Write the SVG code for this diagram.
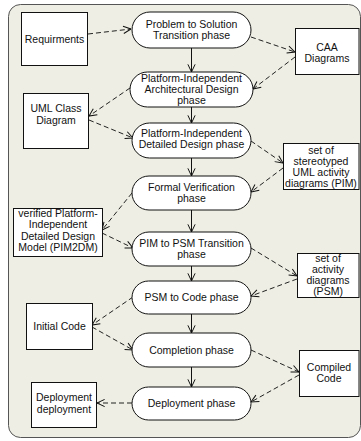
<svg xmlns="http://www.w3.org/2000/svg" width="361" height="441" viewBox="0 0 361 441">
  <defs>
    <style>
      .frame { fill: #eeeee4; stroke: #555; stroke-width: 1; }
      .phase { fill: #fff; stroke: #111; stroke-width: 1; }
      .box { fill: #fff; stroke: #111; stroke-width: 1; }
      text { font-family: "Liberation Sans", Arial, sans-serif; font-size: 10.5px; fill: #111; text-anchor: middle; }
      .flow { stroke: #111; stroke-width: 1; fill: none; }
      .dep { stroke: #222; stroke-width: 1; fill: none; stroke-dasharray: 5 3; }
    </style>
    <marker id="vee" viewBox="0 0 10 10" refX="9.5" refY="5" markerWidth="9" markerHeight="9" markerUnits="userSpaceOnUse" orient="auto">
      <path d="M1,1 L9.5,5 L1,9" fill="none" stroke="#111" stroke-width="1.1" stroke-dasharray="none"/>
    </marker>
  </defs>

  <!-- outer panel -->
  <rect class="frame" x="8.5" y="4.5" width="352" height="433" rx="12"/>

  <!-- connectors -->
  <g id="connectors">
    <!-- main phase flow -->
    <line class="flow" x1="191.5" y1="48" x2="191.5" y2="72" marker-end="url(#vee)"/>
    <line class="flow" x1="191.5" y1="107" x2="191.5" y2="123" marker-end="url(#vee)"/>
    <line class="flow" x1="191.5" y1="158" x2="191.5" y2="176" marker-end="url(#vee)"/>
    <line class="flow" x1="191.5" y1="210" x2="191.5" y2="232" marker-end="url(#vee)"/>
    <line class="flow" x1="191.5" y1="266" x2="191.5" y2="281" marker-end="url(#vee)"/>
    <line class="flow" x1="191.5" y1="314" x2="191.5" y2="333" marker-end="url(#vee)"/>
    <line class="flow" x1="191.5" y1="367" x2="191.5" y2="387" marker-end="url(#vee)"/>
    <!-- artefact dependencies -->
    <line class="dep" x1="88" y1="34" x2="131" y2="29" marker-end="url(#vee)"/>
    <line class="dep" x1="251" y1="37" x2="295" y2="52" marker-end="url(#vee)"/>
    <line class="dep" x1="295" y1="57" x2="253" y2="89" marker-end="url(#vee)"/>
    <line class="dep" x1="130" y1="88" x2="89" y2="116" marker-end="url(#vee)"/>
    <line class="dep" x1="89" y1="120" x2="133" y2="138" marker-end="url(#vee)"/>
    <line class="dep" x1="251" y1="141" x2="283" y2="163" marker-end="url(#vee)"/>
    <line class="dep" x1="283" y1="168" x2="251" y2="192" marker-end="url(#vee)"/>
    <line class="dep" x1="132" y1="193" x2="102" y2="230" marker-end="url(#vee)"/>
    <line class="dep" x1="102" y1="233" x2="133" y2="248" marker-end="url(#vee)"/>
    <line class="dep" x1="251" y1="248" x2="297" y2="276" marker-end="url(#vee)"/>
    <line class="dep" x1="297" y1="279" x2="251" y2="296" marker-end="url(#vee)"/>
    <line class="dep" x1="133" y1="297" x2="92" y2="325" marker-end="url(#vee)"/>
    <line class="dep" x1="92" y1="327" x2="133" y2="350" marker-end="url(#vee)"/>
    <line class="dep" x1="251" y1="350" x2="299" y2="372" marker-end="url(#vee)"/>
    <line class="dep" x1="299" y1="375" x2="251" y2="402" marker-end="url(#vee)"/>
    <line class="dep" x1="132" y1="403" x2="97" y2="403" marker-end="url(#vee)"/>
  </g>

  <!-- phases -->
  <g id="problem-to-solution">
    <rect class="phase" x="132" y="12" width="119" height="36" rx="18"/>
    <text x="191.5" y="28">Problem to Solution</text>
    <text x="191.5" y="39">Transition phase</text>
  </g>
  <g id="pi-architectural">
    <rect class="phase" x="130" y="72" width="123" height="35" rx="17.5"/>
    <text x="191.5" y="82">Platform-Independent</text>
    <text x="191.5" y="93">Architectural Design</text>
    <text x="191.5" y="104">phase</text>
  </g>
  <g id="pi-detailed">
    <rect class="phase" x="132" y="123" width="119" height="35" rx="17.5"/>
    <text x="191.5" y="137">Platform-Independent</text>
    <text x="191.5" y="148">Detailed Design phase</text>
  </g>
  <g id="formal-verification">
    <rect class="phase" x="132" y="176" width="119" height="34" rx="17"/>
    <text x="191.5" y="191">Formal Verification</text>
    <text x="191.5" y="202">phase</text>
  </g>
  <g id="pim-to-psm">
    <rect class="phase" x="132" y="232" width="119" height="34" rx="17"/>
    <text x="191.5" y="247">PIM to PSM Transition</text>
    <text x="191.5" y="258">phase</text>
  </g>
  <g id="psm-to-code">
    <rect class="phase" x="132" y="281" width="119" height="33" rx="16.5"/>
    <text x="191.5" y="301">PSM to Code phase</text>
  </g>
  <g id="completion">
    <rect class="phase" x="132" y="333" width="119" height="34" rx="17"/>
    <text x="191.5" y="354">Completion phase</text>
  </g>
  <g id="deployment-phase">
    <rect class="phase" x="132" y="387" width="119" height="33" rx="16.5"/>
    <text x="191.5" y="407">Deployment phase</text>
  </g>

  <!-- artefacts, left -->
  <g id="requirments">
    <rect class="box" x="21.5" y="12.5" width="66" height="53"/>
    <text x="54.5" y="43">Requirments</text>
  </g>
  <g id="uml-class-diagram">
    <rect class="box" x="23.5" y="93.5" width="65" height="55"/>
    <text x="56" y="112">UML Class</text>
    <text x="56" y="124">Diagram</text>
  </g>
  <g id="verified-pim2dm">
    <rect class="box" x="13.5" y="208.5" width="89" height="48"/>
    <text x="58" y="217">verified Platform-</text>
    <text x="58" y="228">Independent</text>
    <text x="58" y="240">Detailed Design</text>
    <text x="58" y="251">Model (PIM2DM)</text>
  </g>
  <g id="initial-code">
    <rect class="box" x="26.5" y="303.5" width="66" height="46"/>
    <text x="59.5" y="330">Initial Code</text>
  </g>
  <g id="deployment-box">
    <rect class="box" x="31.5" y="382.5" width="65" height="45"/>
    <text x="64" y="401">Deployment</text>
    <text x="64" y="413">deployment</text>
  </g>

  <!-- artefacts, right -->
  <g id="caa-diagrams">
    <rect class="box" x="295.5" y="28.5" width="63.5" height="46"/>
    <text x="327" y="51">CAA</text>
    <text x="327" y="62">Diagrams</text>
  </g>
  <g id="uml-activity-pim">
    <rect class="box" x="283.5" y="143.5" width="75.5" height="46"/>
    <text x="321" y="154">set of</text>
    <text x="321" y="165">stereotyped</text>
    <text x="321" y="176">UML activity</text>
    <text x="321" y="187">diagrams (PIM)</text>
  </g>
  <g id="activity-psm">
    <rect class="box" x="297.5" y="253.5" width="61.5" height="44"/>
    <text x="328" y="262">set of</text>
    <text x="328" y="273">activity</text>
    <text x="328" y="284">diagrams</text>
    <text x="328" y="295">(PSM)</text>
  </g>
  <g id="compiled-code">
    <rect class="box" x="299.5" y="350.5" width="59.5" height="46"/>
    <text x="329" y="371">Compiled</text>
    <text x="329" y="382">Code</text>
  </g>
</svg>
